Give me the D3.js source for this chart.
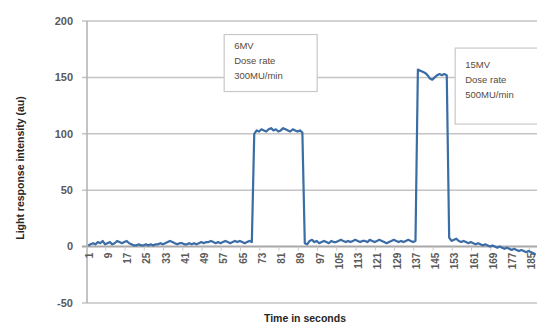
<!DOCTYPE html>
<html>
<head>
<meta charset="utf-8">
<script src="https://cdn.jsdelivr.net/npm/d3@7"></script>
<style>
  body { margin: 0; background: #fff; }
  svg { display: block; font-family: "Liberation Sans", Arial, sans-serif; }
</style>
</head>
<body>
<div id="chart"></div>
<script>
"use strict";

// == DATA ==
var seconds = d3.range(1, 188);          // time axis, 1..187 s
var intensity = [
  1, 2, 3, 2, 4, 3, 5, 2, 3, 4,
  2, 3, 5, 4, 3, 4, 5, 3, 2, 1,
  1, 2, 1, 1, 2, 1, 2, 1, 2, 2,
  3, 2, 3, 4, 5, 4, 3, 2, 3, 3,
  2, 2, 3, 2, 3, 2, 3, 4, 3, 4,
  4, 5, 4, 3, 4, 3, 4, 5, 4, 3,
  4, 5, 4, 5, 4, 3, 4, 5, 4,
  // 6MV pulse
  100, 103, 102, 104, 103, 102, 104, 105, 103, 104,
  102, 103, 105, 104, 103, 102, 104, 103, 102, 103, 101,
  3, 2, 5, 6, 4, 5, 3, 4, 5, 4,
  3, 5, 4, 4, 5, 6, 5, 4, 5, 4,
  5, 6, 5, 4, 5, 5, 4, 6, 5, 4,
  5, 6, 5, 4, 3, 4, 5, 6, 5, 4,
  5, 4, 5, 6, 5, 4, 5,
  // 15MV pulse
  157, 156, 155, 154, 152, 149, 148, 150, 152, 153, 152, 153, 152,
  8, 5, 6, 7, 5, 4, 5, 4, 3, 4,
  3, 2, 3, 2, 1, 2, 1, 0, 1, 0,
  -1, 0, -1, -2, -1, -2, -3, -2, -3, -4,
  -3, -4, -5, -4, -5, -6, -7
];
var yTicks = [-50, 0, 50, 100, 150, 200];
var xTickLabels = ["1", "9", "17", "25", "33", "41", "49", "57", "65", "73", "81", "89",
  "97", "105", "113", "121", "129", "137", "145", "153", "161", "169", "177", "185"];
var notes = [
  { at: 58, value: 188, lines: ["6MV", "Dose rate", "300MU/min"] },
  { at: 154, value: 176, lines: ["15MV", "Dose rate", "500MU/min"] }
];

// == BOILERPLATE ==
var width = 537, height = 327;
var plot = { left: 87, right: 537, top: 21, bottom: 303 };

var svg = d3.select("#chart")
  .append("svg")
  .attr("width", width)
  .attr("height", height);

var x = d3.scaleBand()
  .domain(seconds)
  .range([plot.left, plot.right])
  .padding(0);

var y = d3.scaleLinear()
  .domain([-50, 200])
  .range([plot.bottom, plot.top]);

// == GRID + AXES ==
svg.append("g")
  .selectAll("line")
  .data(yTicks)
  .enter()
  .append("line")
  .attr("x1", plot.left - 5)
  .attr("x2", plot.right)
  .attr("y1", function (d) { return y(d); })
  .attr("y2", function (d) { return y(d); })
  .attr("stroke", function (d) { return d === 0 ? "#a8a8a8" : "#c4c4c4"; })
  .attr("stroke-width", function (d) { return d === 0 ? 2 : 1.5; });

svg.append("line")
  .attr("x1", plot.left).attr("x2", plot.left)
  .attr("y1", plot.top).attr("y2", plot.bottom)
  .attr("stroke", "#b0b0b0")
  .attr("stroke-width", 1.5);

svg.append("g")
  .selectAll("text")
  .data(yTicks)
  .enter()
  .append("text")
  .attr("x", 73)
  .attr("y", function (d) { return y(d); })
  .attr("dy", "0.35em")
  .attr("text-anchor", "end")
  .attr("font-size", 11)
  .attr("font-weight", "bold")
  .attr("fill", "#595959")
  .text(function (d) { return d; });

// category ticks on the zero line
svg.append("g")
  .selectAll("line")
  .data(xTickLabels)
  .enter()
  .append("line")
  .attr("x1", function (d) { return x(+d) - 0.5; })
  .attr("x2", function (d) { return x(+d) - 0.5; })
  .attr("y1", y(0))
  .attr("y2", y(0) + 4)
  .attr("stroke", "#c8c8c8");

svg.append("g")
  .selectAll("text")
  .data(xTickLabels)
  .enter()
  .append("text")
  .attr("transform", function (d) {
    return "translate(" + (x(+d) + x.bandwidth() / 2 + 1) + "," + (y(0) + 6) + ") rotate(-90)";
  })
  .attr("dy", "0.35em")
  .attr("text-anchor", "end")
  .attr("font-size", 10)
  .attr("font-weight", "bold")
  .attr("fill", "#595959")
  .text(function (d) { return d; });

// titles
svg.append("text")
  .attr("transform", "translate(24," + ((plot.top + plot.bottom) / 2 + 6) + ") rotate(-90)")
  .attr("text-anchor", "middle")
  .attr("font-size", 10.5)
  .attr("font-weight", "bold")
  .attr("fill", "#262626")
  .text("Light response intensity (au)");

svg.append("text")
  .attr("x", 305)
  .attr("y", 322)
  .attr("text-anchor", "middle")
  .attr("font-size", 10.5)
  .attr("font-weight", "bold")
  .attr("fill", "#262626")
  .text("Time in seconds");

// == LINE ==
var line = d3.line()
  .x(function (d, i) { return x(seconds[i]) + x.bandwidth() / 2; })
  .y(function (d) { return y(d); });

svg.append("path")
  .datum(intensity)
  .attr("d", line)
  .attr("fill", "none")
  .attr("stroke", "#3a6ca6")
  .attr("stroke-width", 2.2)
  .attr("stroke-linejoin", "round");

// == NOTES ==
var noteG = svg.selectAll("g.note")
  .data(notes)
  .enter()
  .append("g")
  .attr("class", "note")
  .attr("transform", function (d) {
    return "translate(" + x(d.at) + "," + y(d.value) + ")";
  });

noteG.append("rect")
  .attr("width", function (d, i) { return i === 0 ? 93 : 90; })
  .attr("height", function (d, i) { return i === 0 ? 57 : 76; })
  .attr("fill", "#fff")
  .attr("stroke", "#c8c8c8")
  .attr("stroke-width", 1.2);

noteG.selectAll("text")
  .data(function (d, i) { return d.lines.map(function (t) { return { t: t, i: i }; }); })
  .enter()
  .append("text")
  .attr("x", 10)
  .attr("y", function (d, j) { return (d.i === 0 ? 14 : 20) + j * 15; })
  .attr("font-size", 9.5)
  .attr("fill", "#5a4a3a")
  .text(function (d) { return d.t; });
</script>
</body>
</html>
